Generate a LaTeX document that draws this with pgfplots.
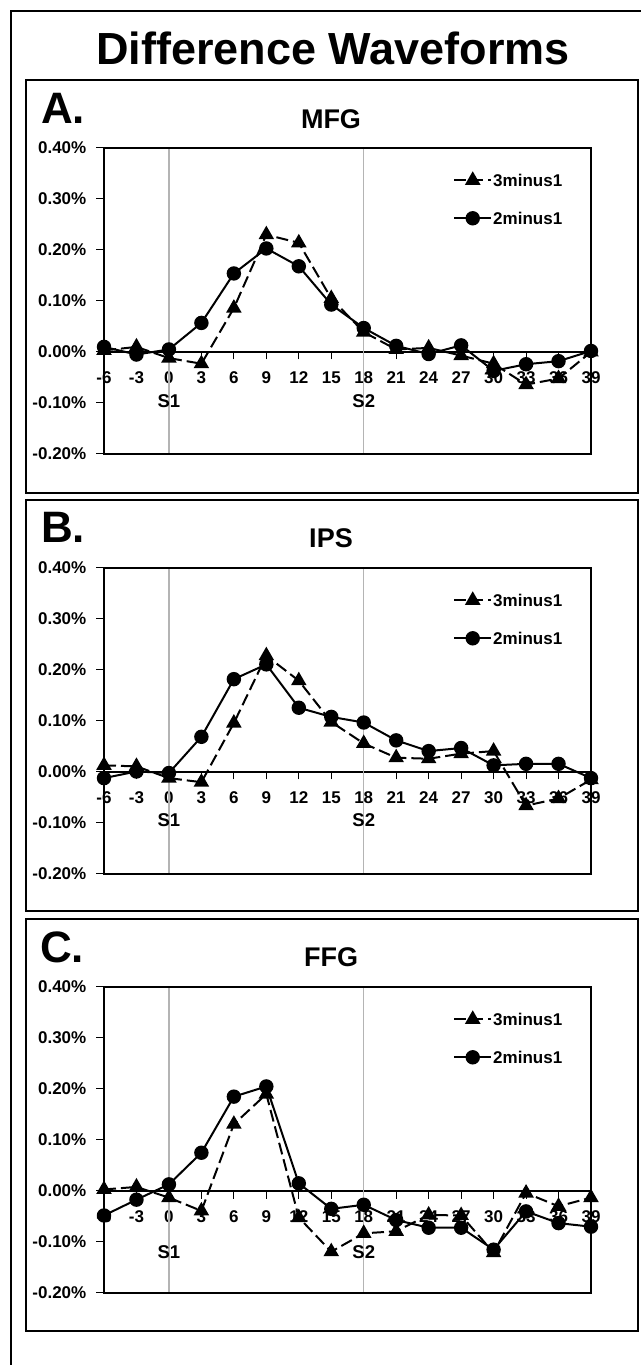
\documentclass[border=0pt]{standalone}
\usepackage{fontspec}
\setmainfont{Liberation Sans}
\usepackage{pgfplots}
\pgfplotsset{compat=1.18}
\usepackage{pgfplotstable}

\newcommand\tk{\fontsize{17}{20}\selectfont\bfseries}
\newcommand\sk{\fontsize{18.5}{20}\selectfont\bfseries}

\pgfplotstableread{
t   tri     circ
-6  0.003   0.010
-3  0.010  -0.005
0  -0.012   0.005
3  -0.023   0.057
6   0.086   0.154
9   0.230   0.203
12  0.214   0.168
15  0.105   0.093
18  0.039   0.047
21  0.005   0.012
24  0.008  -0.004
27 -0.007   0.013
30 -0.023  -0.037
33 -0.064  -0.024
36 -0.052  -0.018
39  0.000   0.002
}\dataA

\pgfplotstableread{
t   tri     circ
-6  0.013  -0.012
-3  0.011   0.001
0  -0.012  -0.002
3  -0.020   0.069
6   0.096   0.182
9   0.228   0.211
12  0.179   0.126
15  0.098   0.108
18  0.056   0.097
21  0.028   0.062
24  0.026   0.041
27  0.036   0.047
30  0.041   0.013
33 -0.066   0.016
36 -0.052   0.016
39 -0.015  -0.012
}\dataB

\pgfplotstableread{
t   tri     circ
-6  0.003  -0.048
-3  0.008  -0.017
0  -0.013   0.013
3  -0.039   0.075
6   0.131   0.185
9   0.190   0.205
12 -0.052   0.015
15 -0.119  -0.035
18 -0.083  -0.027
21 -0.079  -0.057
24 -0.047  -0.072
27 -0.048  -0.072
30 -0.121  -0.115
33 -0.004  -0.040
36 -0.030  -0.063
39 -0.013  -0.070
}\dataC

\pgfplotsset{
  panel/.style={
    scale only axis, width=487pt, height=306pt,
    xmin=-6, xmax=39, ymin=-0.2, ymax=0.4,
    axis x line*=middle, axis y line*=left,
    xtick={-6,-3,0,3,6,9,12,15,18,21,24,27,30,33,36,39},
    xticklabels={-6,-3,0,3,6,9,12,15,18,21,24,27,30,33,36,39},
    ytick={-0.2,-0.1,0,0.1,0.2,0.3,0.4},
    yticklabels={-0.20\%,-0.10\%,0.00\%,0.10\%,0.20\%,0.30\%,0.40\%},
    tick align=outside, major tick length=7.5pt,
    tick style={black, line width=1pt},
    axis line style={black, line width=1.6pt},
    hide obscured x ticks=false,
    tick label style={font=\tk},
    yticklabel style={inner sep=0pt, xshift=-10pt},
    xticklabel style={inner sep=0pt, text height=12pt, text depth=0pt, yshift=-12pt},
    clip=false,
    legend style={draw=none, fill=none, inner sep=0pt, font=\tk,
      at={(axis description cs:0.7167,0.918)}, anchor=north west,
      row sep=24pt,
      nodes={inner sep=1pt, text height=12pt, text depth=0pt}},
    legend cell align=left,
    legend image code/.code={\draw[mark repeat=2,mark phase=2,##1] plot coordinates {(0pt,0pt) (18.5pt,0pt) (37pt,0pt)};},
    after end axis/.code={\draw[black, line width=1.2pt] (rel axis cs:0,0) rectangle (rel axis cs:1,1);},
  },
  gl/.style={color={rgb,255:red,180;green,180;blue,180}, line width=1.5pt, forget plot},
  tri/.style={black, line width=2pt, dash pattern=on 12pt off 5pt, mark=triangle*, mark size=7pt, mark options={solid, fill=black}},
  circ/.style={black, line width=2pt, solid, mark=*, mark size=6.2pt, mark options={solid, fill=black}},
}

\begin{document}
\begin{tikzpicture}[x=1pt,y=1pt]
\path[use as bounding box] (0,0) rectangle (640,1365);
% outer frame
\draw[black, line width=2.5pt] (11,-5) -- (11,1354) -- (650,1354);
% title
\node[font=\fontsize{45}{50}\selectfont\bfseries, anchor=base, inner sep=0pt] at (333,1300) {Difference Waveforms};

% panel boxes
\draw[black, line width=1.5pt] (26,1285) rectangle (638,872);
\draw[black, line width=1.5pt] (26,865) rectangle (638,454);
\draw[black, line width=1.5pt] (26,446) rectangle (638,34);

% panel labels
\node[font=\fontsize{44}{50}\selectfont\bfseries, anchor=base west, inner sep=0pt] at (41,1241) {A.};
\node[font=\fontsize{27}{30}\selectfont\bfseries, anchor=base, inner sep=0pt] at (331,1236) {MFG};
\node[font=\fontsize{44}{50}\selectfont\bfseries, anchor=base west, inner sep=0pt] at (41,822) {B.};
\node[font=\fontsize{27}{30}\selectfont\bfseries, anchor=base, inner sep=0pt] at (331,817) {IPS};
\node[font=\fontsize{44}{50}\selectfont\bfseries, anchor=base west, inner sep=0pt] at (40,402) {C.};
\node[font=\fontsize{27}{30}\selectfont\bfseries, anchor=base, inner sep=0pt] at (331,398) {FFG};

% Panel A
\begin{axis}[panel, at={(104pt,911pt)}, anchor=south west]
\addplot[gl] coordinates {(0,-0.2) (0,0.4)};
\addplot[gl] coordinates {(18,-0.2) (18,0.4)};
\addplot[tri] table[x=t,y=tri] {\dataA};
\addplot[circ] table[x=t,y=circ] {\dataA};
\legend{3minus1,2minus1}
\node[font=\sk] at (axis cs:0,-0.096) {S1};
\node[font=\sk] at (axis cs:18,-0.096) {S2};
\end{axis}

% Panel B
\begin{axis}[panel, at={(104pt,491pt)}, anchor=south west]
\addplot[gl] coordinates {(0,-0.2) (0,0.4)};
\addplot[gl] coordinates {(18,-0.2) (18,0.4)};
\addplot[tri] table[x=t,y=tri] {\dataB};
\addplot[circ] table[x=t,y=circ] {\dataB};
\legend{3minus1,2minus1}
\node[font=\sk] at (axis cs:0,-0.094) {S1};
\node[font=\sk] at (axis cs:18,-0.094) {S2};
\end{axis}

% Panel C
\begin{axis}[panel, at={(104pt,72pt)}, anchor=south west]
\addplot[gl] coordinates {(0,-0.2) (0,0.4)};
\addplot[gl] coordinates {(18,-0.2) (18,0.4)};
\addplot[tri] table[x=t,y=tri] {\dataC};
\addplot[circ] table[x=t,y=circ] {\dataC};
\legend{3minus1,2minus1}
\node[font=\sk] at (axis cs:0,-0.12) {S1};
\node[font=\sk] at (axis cs:18,-0.12) {S2};
\end{axis}
\end{tikzpicture}
\end{document}
